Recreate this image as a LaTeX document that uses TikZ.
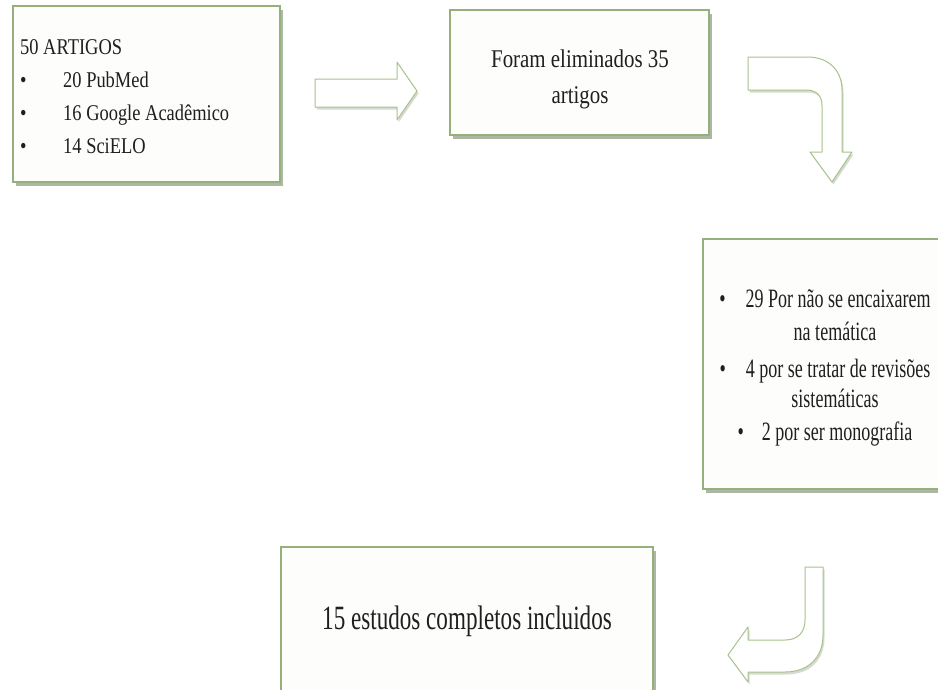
\documentclass[tikz,border=0pt]{standalone}
\usepackage{fontspec}
\setmainfont{Liberation Serif}[FakeStretch=0.82]
\newfontfamily\narrowfont{Liberation Serif}[FakeStretch=0.68]
\usetikzlibrary{shadows}
\definecolor{boxline}{RGB}{150,176,124}
\definecolor{boxfill}{RGB}{253,254,251}
\definecolor{shade}{RGB}{140,152,128}
\definecolor{arrline}{RGB}{168,194,140}
\begin{document}
\begin{tikzpicture}[x=1pt,y=-1pt,
    box/.style={draw=boxline, fill=boxfill, line width=1.2pt, inner sep=0pt,
      drop shadow={shadow xshift=2.5pt, shadow yshift=-4pt, fill=shade, opacity=0.7}},
    txt/.style={inner sep=0pt, text=black!88},
    bigarrow/.style={draw=arrline, fill=white, line width=1pt, line join=round,
      drop shadow={shadow xshift=1.5pt, shadow yshift=-2.5pt, fill=shade, opacity=0.35}}]
  \clip (0,0) rectangle (938,689);
  \fill[white] (0,0) rectangle (938,689);
  \draw
    (146.5,94) node[box, minimum width=267pt, minimum height=176pt] (b1){}
    (579.5,72.5) node[box, minimum width=259pt, minimum height=125pt] (b2){}
    (826,364) node[box, minimum width=246pt, minimum height=250pt] (b3){}
    (467,635) node[box, minimum width=372pt, minimum height=176pt] (b4){};
  \draw
    (20,97) node[txt, anchor=west, align=left, font=\fontsize{22.5}{33}\selectfont] (t1){50 ARTIGOS\\
      \makebox[43pt][l]{\textbullet}20 PubMed\\
      \makebox[43pt][l]{\textbullet}16 Google Acadêmico\\
      \makebox[43pt][l]{\textbullet}14 SciELO}
    (580,79) node[txt, align=center, font=\fontsize{25.5}{36}\selectfont] (t2){Foram eliminados 35\\ artigos}
    (825,367.5) node[txt, align=center, font=\narrowfont\fontsize{26.5}{33}\selectfont] (t3){\textbullet\hspace{20pt}29 Por não se encaixarem\\
      \hspace*{20pt}na temática\\[4pt]
      \textbullet\hspace{20pt}4 por se tratar de revisões\\[-3pt]
      \hspace*{20pt}sistemáticas\\
      \textbullet\hspace{18pt}2 por ser monografia}
    (467,621) node[txt, font=\narrowfont\fontsize{34}{40}\selectfont] (t4){15 estudos completos incluidos};
  \draw[bigarrow] (315,79) -- (397,79) -- (397,62) -- (417,91) -- (397,120) -- (397,107) -- (315,107) -- cycle;
  \draw[bigarrow] (748,57) -- (808,57) .. controls (828,57) and (842,70) .. (842,90) -- (842,152) -- (852,152)
    -- (832,182) -- (810,152) -- (822,152) -- (822,106) .. controls (822,95) and (816,90) .. (806,90) -- (748,90) -- cycle;
  \draw[bigarrow] (805,567) -- (823,567) -- (823,635) .. controls (823,658) and (808,672) .. (785,672) -- (748,672)
    -- (748,682) -- (728,655) -- (748,627) -- (748,640) -- (785,640) .. controls (798,640) and (805,632) .. (805,620) -- cycle;
\end{tikzpicture}
\end{document}
